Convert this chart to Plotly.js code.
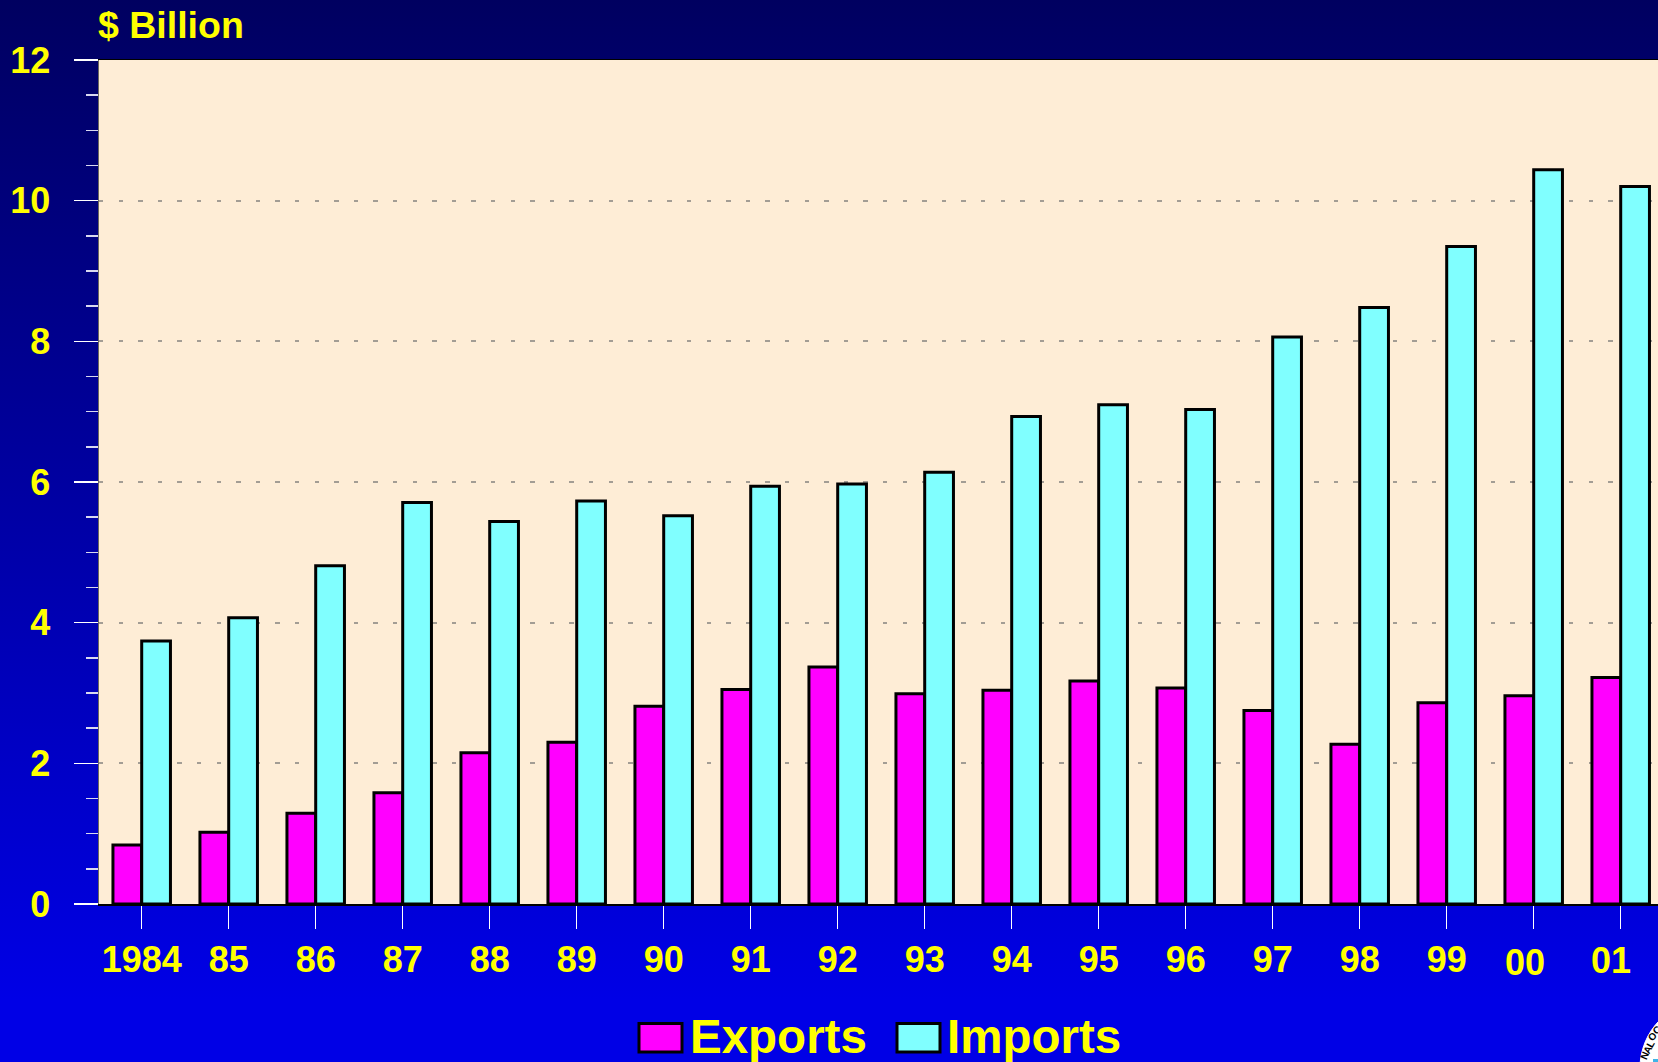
<!DOCTYPE html>
<html>
<head>
<meta charset="utf-8">
<script src="https://cdn.plot.ly/plotly-3.0.1.min.js"></script>
<style>
html,body{margin:0;padding:0;width:1658px;height:1062px;overflow:hidden;}
#chart{width:1658px;height:1062px;background:linear-gradient(to bottom,#000060 0px,#0000e6 1000px,#0000e6 1062px);}
</style>
</head>
<body>
<div id="chart"></div>
<script>
const years = ['1984','85','86','87','88','89','90','91','92','93','94','95','96','97','98','99','00','01'];
const exportsB = [0.84,1.02,1.29,1.58,2.15,2.30,2.81,3.05,3.37,2.99,3.04,3.17,3.07,2.75,2.27,2.86,2.96,3.22];
const importsB = [3.74,4.07,4.81,5.71,5.44,5.73,5.52,5.94,5.97,6.14,6.93,7.10,7.03,8.06,8.48,9.35,10.44,10.20];
const movedLabels = ['00','01'];
const W = 1658, H = 1062, ML = 99, MT = 60, MB = 158;
const YEL = '#ffff00', FONT = '"Liberation Sans", Arial, sans-serif';
const px = v => (v - ML) / (W - ML), py = v => (H - MB - v) / (H - MT - MB);
const lineBlack = {color:'#000000', width:3};

const traces = [
  {type:'bar', name:'Exports', x:years, y:exportsB, marker:{color:'#ff00ff', line:lineBlack}, showlegend:false},
  {type:'bar', name:'Imports', x:years, y:importsB, marker:{color:'#80ffff', line:lineBlack}, showlegend:false}
];

function textAnn(text, x, y, size, xanchor){
  return {text, x:px(x), y:py(y), xref:'paper', yref:'paper', xanchor:xanchor||'left', yanchor:'middle',
          showarrow:false, font:{family:FONT, size, color:YEL, weight:700}};
}
function sealLetter(text, x, y, angle){
  return {text, x:px(x), y:py(y), xref:'paper', yref:'paper', xanchor:'center', yanchor:'middle',
          showarrow:false, textangle:angle, font:{family:FONT, size:10, color:'#000000', weight:700}};
}
function swatch(x0, x1, color){
  return {type:'rect', xref:'paper', yref:'paper', x0:px(x0), x1:px(x1), y0:py(1052), y1:py(1023.5),
          fillcolor:color, line:lineBlack, layer:'above'};
}

const layout = {
  width:W, height:H,
  margin:{l:ML, r:0, t:MT, b:MB, pad:0},
  paper_bgcolor:'rgba(0,0,0,0)',
  plot_bgcolor:'#feedd6',
  barmode:'group', bargap:0.339, bargroupgap:0,
  showlegend:false,
  xaxis:{
    type:'category', range:[-0.4908,17.4287], fixedrange:true,
    tickmode:'array', tickvals:years,
    ticktext:years.map(y => movedLabels.includes(y) ? ' ' : y),
    ticks:'outside', ticklen:23, tickwidth:1.5, tickcolor:'#ffffff',
    tickfont:{family:FONT, size:36, color:YEL, weight:700},
    ticklabelstandoff:0,
    showgrid:false, showline:true, linecolor:'#000000', linewidth:1.5, mirror:true, zeroline:false
  },
  yaxis:{
    range:[0,12], fixedrange:true, tick0:0, dtick:2,
    ticks:'outside', ticklen:24, tickwidth:1.5, tickcolor:'#ffffff',
    tickfont:{family:FONT, size:36, color:YEL, weight:700},
    ticklabelstandoff:16,
    showgrid:true, gridcolor:'#a39d94', gridwidth:2, griddash:'4.4px,15.2px',
    zeroline:false, showline:true, linecolor:'#6b675f', linewidth:1.5,
    minor:{dtick:0.5, ticks:'outside', ticklen:12, tickwidth:1.5, tickcolor:'#d8d8f0', showgrid:false}
  },
  annotations:[
    textAnn('$ Billion', 96, 25, 37.5),
    {text:'00', x:16, y:py(963), xref:'x', yref:'paper', xanchor:'center', yanchor:'middle', showarrow:false,
     xshift:-8.5, font:{family:FONT, size:36, color:YEL, weight:700}},
    {text:'01', x:17, y:py(960), xref:'x', yref:'paper', xanchor:'center', yanchor:'middle', showarrow:false,
     xshift:-10, font:{family:FONT, size:36, color:YEL, weight:700}},
    textAnn('Exports', 688, 1036, 47.5),
    textAnn('Imports', 945, 1036, 47.5),
    sealLetter('N', 1644, 1056, -68),
    sealLetter('A', 1647, 1050, -64),
    sealLetter('L', 1650, 1044, -60),
    sealLetter('O', 1652, 1036, -50),
    sealLetter('C', 1656, 1030, -42)
  ],
  shapes:[
    swatch(639, 682, '#ff00ff'),
    swatch(897, 940, '#80ffff'),
    {type:'circle', xref:'paper', yref:'paper', x0:px(1640), x1:px(1776), y0:py(1136), y1:py(1000),
     fillcolor:'#ffffff', line:{color:'#ffffff', width:1}, layer:'above'},
    {type:'rect', xref:'paper', yref:'paper', x0:px(1653), x1:px(1658), y0:py(1062), y1:py(1059),
     fillcolor:'#3fb4e8', line:{width:0}, layer:'above'}
  ]
};

Plotly.newPlot('chart', traces, layout, {displayModeBar:false, staticPlot:true});
</script>
</body>
</html>
